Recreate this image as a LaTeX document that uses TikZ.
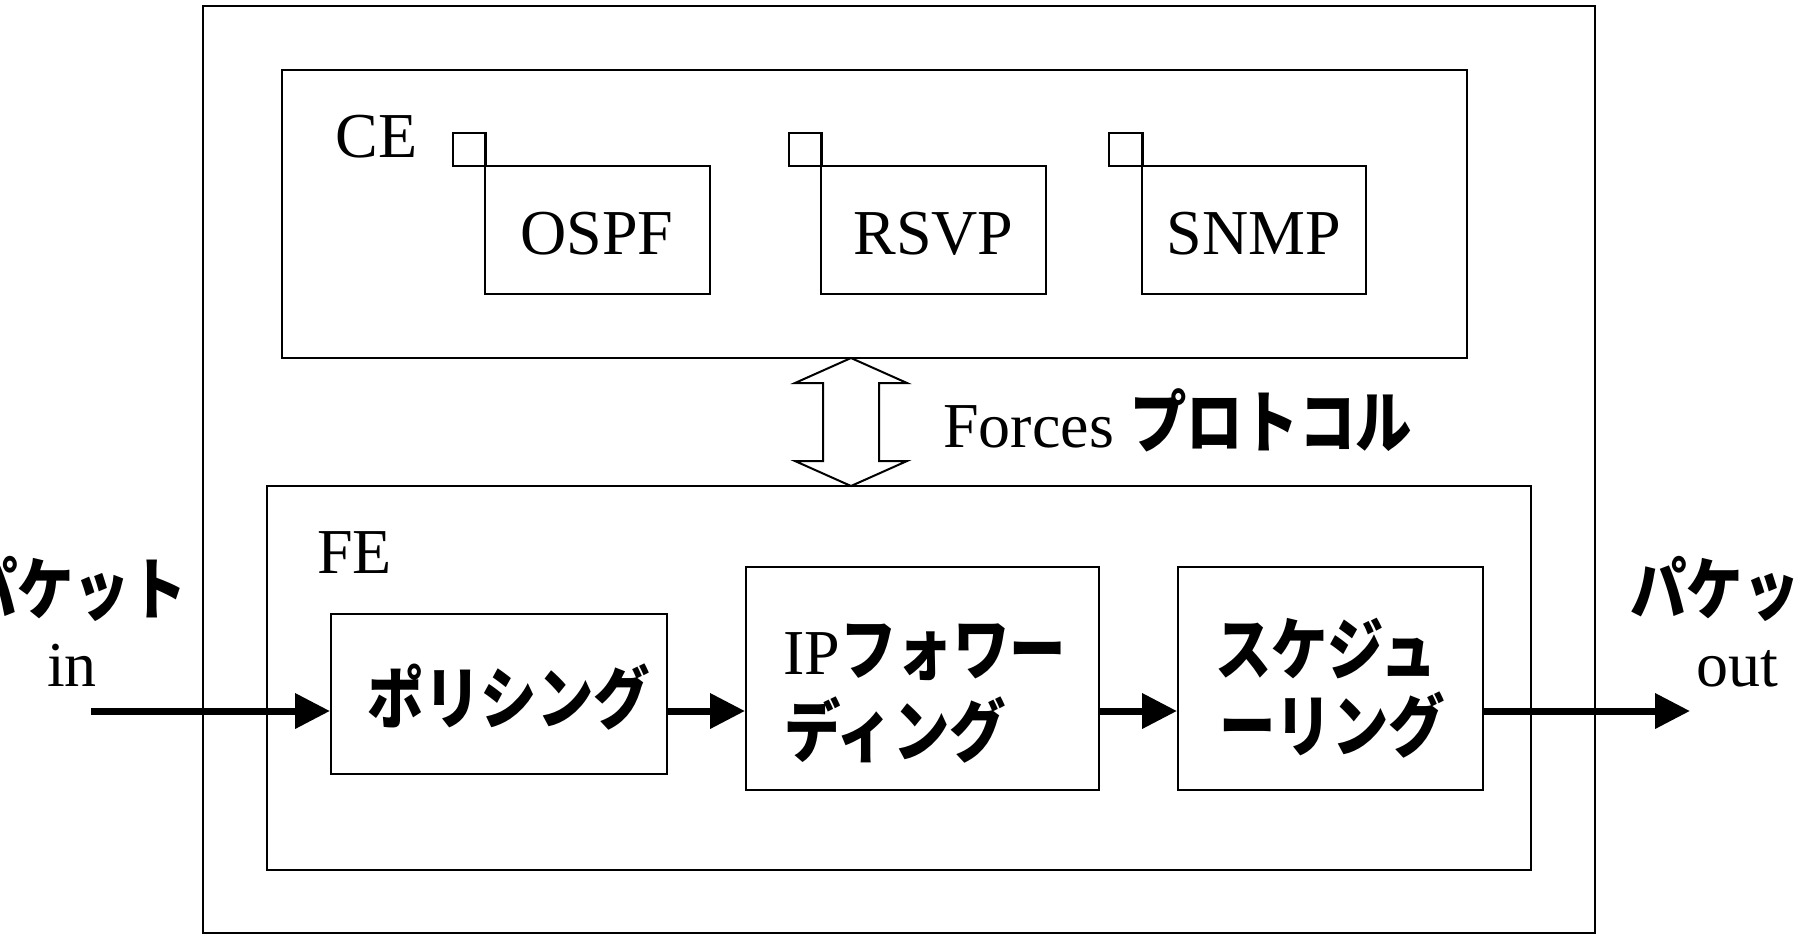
\documentclass[tikz,border=0pt]{standalone}
\usepackage{fontspec}
\setmainfont{Liberation Serif}
\newfontfamily\jp{Noto Sans CJK JP}[FakeStretch=0.83]
\usetikzlibrary{arrows.meta,calc,fit}
\begin{document}
\begin{tikzpicture}[x=0.5pt,y=-0.5pt,
  box/.style={draw,line width=1pt,inner sep=0pt,fill=white},
  lat/.style={font=\fontsize{32pt}{38pt}\selectfont,inner sep=0pt},
  jpt/.style={font=\jp\bfseries\fontsize{34pt}{40pt}\selectfont,inner sep=0pt},
  flow/.style={line width=3.5pt,-{Triangle[length=17.5pt,width=17pt]}},
]
\useasboundingbox (0,0) rectangle (1804,934);
% outer frame
\node[box,fit={(203,6) (1595,933)}] (outer) {};
% CE
\node[box,fit={(282,70) (1467,358)}] (ce) {};
\node[lat,anchor=base west] (celab) at (335,157) {CE};
\node[box,fit={(453,133) (485,166)}] (sq1) {};
\node[box,fit={(485,166) (710,294)}] (ospf) {};
\node[box,fit={(789,133) (821,166)}] (sq2) {};
\node[box,fit={(821,166) (1046,294)}] (rsvp) {};
\node[box,fit={(1109,133) (1142,166)}] (sq3) {};
\node[box,fit={(1142,166) (1366,294)}] (snmp) {};
\draw[line width=1pt] (sq1.south east) -- (sq1.north east);
\draw[line width=1pt] (sq2.south east) -- (sq2.north east);
\draw[line width=1pt] (sq3.south east) -- (sq3.north east);
\node[lat,anchor=base] (t1) at (597,254) {OSPF};
\node[lat,anchor=base] (t2) at (933.5,254) {RSVP};
\node[lat,anchor=base] (t3) at (1254,254) {SNMP};
% FE
\node[box,fit={(267,486) (1531,870)}] (fe) {};
\node[lat,anchor=base west] (felab) at (317,573) {FE};
\node[box,fit={(331,614) (667,774)}] (poli) {};
\node[box,fit={(746,567) (1099,790)}] (ipf) {};
\node[box,fit={(1178,567) (1483,790)}] (sched) {};
\node[jpt,anchor=base] (tp) at (509,723) {ポリシング};
\node[lat,anchor=base west] (ti1) at (783,674) {IP{\jp\bfseries\fontsize{34pt}{40pt}\selectfont フォワー}};
\node[jpt,anchor=base west] (ti2) at (784,756) {ディング};
\node[jpt,anchor=base] (ts1) at (1326,674) {スケジュ};
\node[jpt,anchor=base] (ts2) at (1332,751) {ーリング};
% double arrow between CE and FE
\coordinate (dt) at (851,358);
\coordinate (db) at (851,486);
\draw[line width=1pt,fill=white] (dt) -- ++(56,25) -- ++(-28,0) -- ++(0,78) -- ++(28,0)
  -- (db) -- ++(-56,-25) -- ++(28,0) -- ++(0,-78) -- ++(-28,0) -- cycle;
\node[lat,anchor=base west] (forces) at (943,447) {Forces {\jp\bfseries\fontsize{34pt}{40pt}\selectfont プロトコル}};
% packet flow
\coordinate (ain) at (91,711);
\coordinate (aout) at (1690,711);
\draw[flow] (ain) -- (ain -| poli.west);
\draw[flow] (poli.east |- ain) -- (ipf.west |- ain);
\draw[flow] (ipf.east |- ain) -- (sched.west |- ain);
\draw[flow] (sched.east |- ain) -- (aout);
\node[jpt,anchor=base] (pin) at (74,614) {パケット};
\node[lat,anchor=base] (tin) at (72,686) {in};
\node[jpt,anchor=base west] (pout) at (1630,614) {パケット};
\node[lat,anchor=base] (tout) at (1737,686) {out};
\end{tikzpicture}
\end{document}
